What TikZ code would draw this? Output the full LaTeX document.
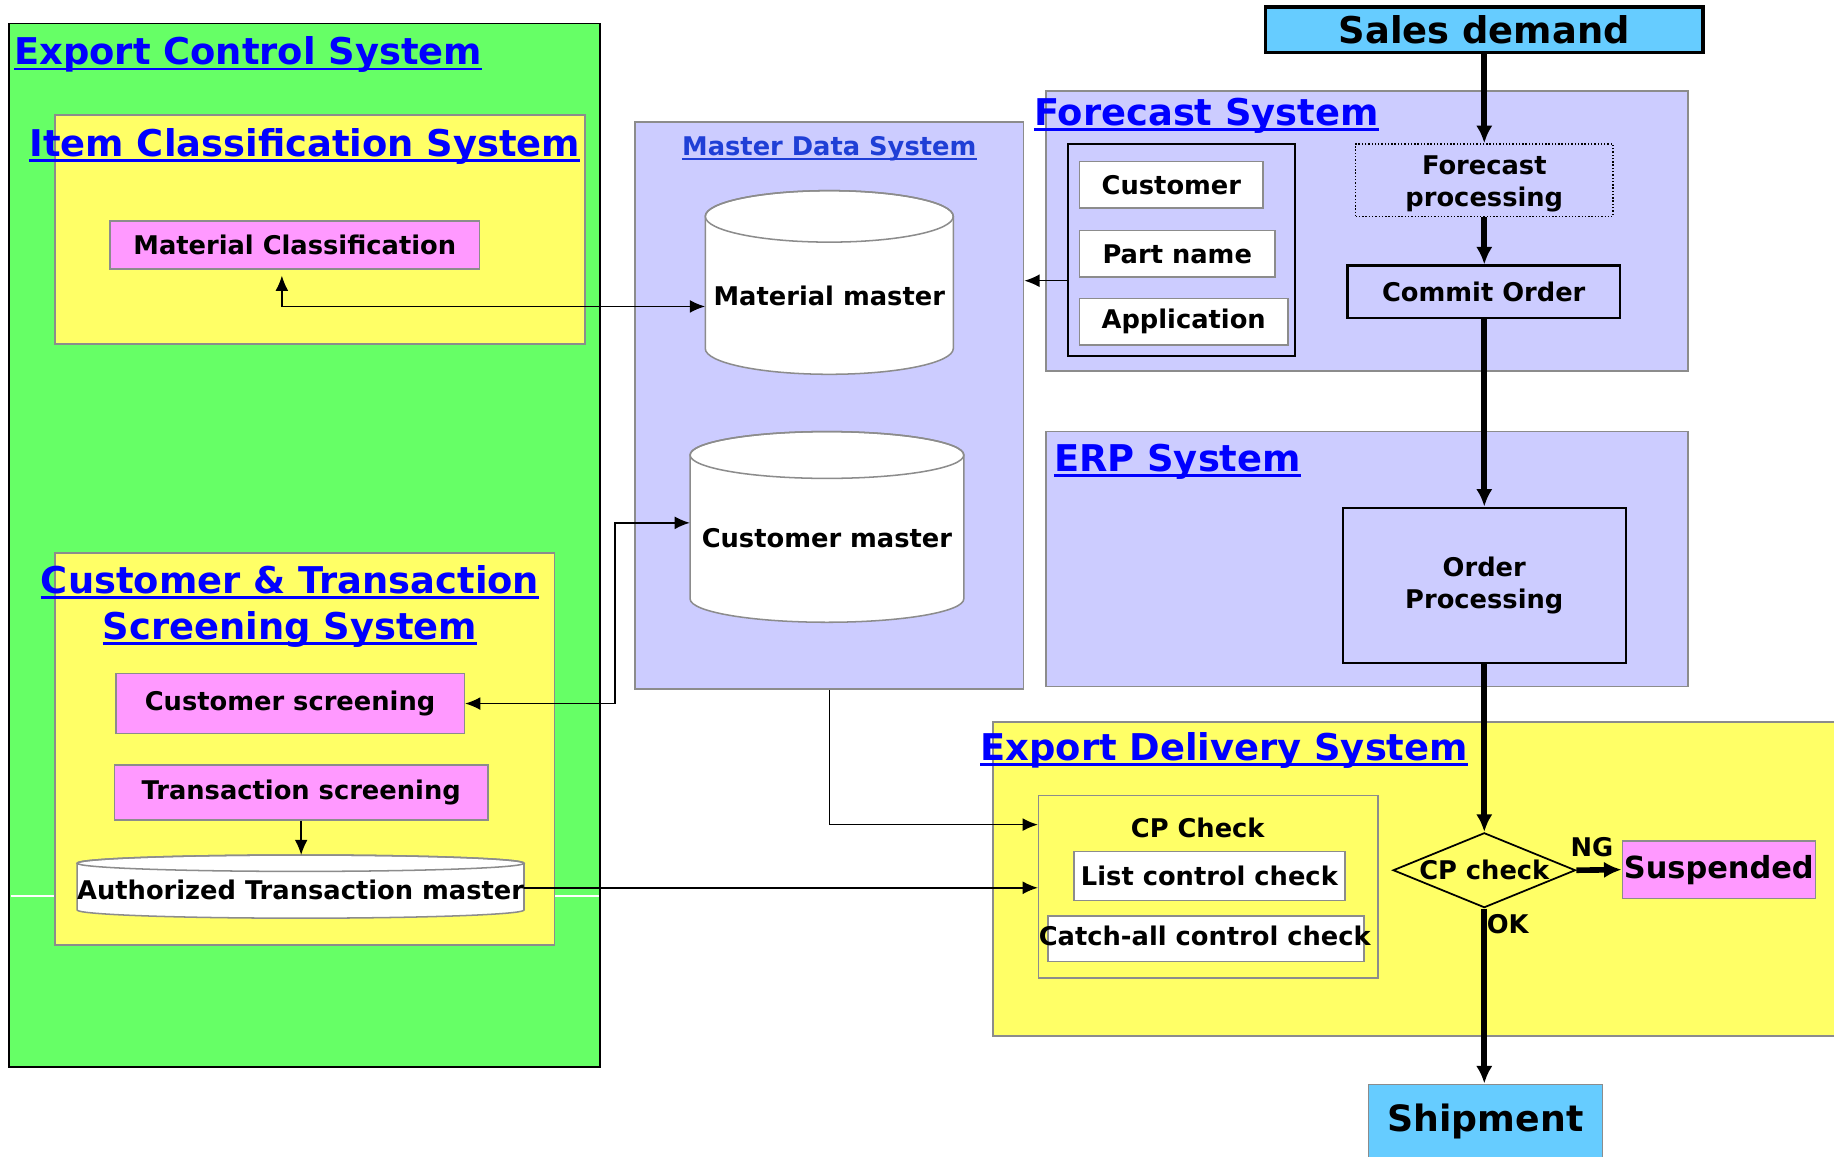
\documentclass[tikz,border=0pt]{standalone}
\usepackage{fontspec}
\setmainfont{DejaVu Sans}
\usetikzlibrary{shapes.geometric,arrows.meta}
\definecolor{cgreen}{HTML}{66FF66}
\definecolor{cyellow}{HTML}{FFFF66}
\definecolor{clav}{HTML}{CCCCFF}
\definecolor{cpink}{HTML}{FF99FF}
\definecolor{csky}{HTML}{66CCFF}
\definecolor{cgrey}{HTML}{8C8C8C}
\definecolor{ctitle}{HTML}{0000FF}
\definecolor{cmds}{HTML}{1F3FD6}
\begin{document}
\begin{tikzpicture}[x=1pt,y=-1pt,
  sysbox/.style={draw=cgrey,line width=1.5pt,inner sep=0pt},
  pinkbox/.style={draw=cgrey,line width=1.3pt,fill=cpink,inner sep=0pt,font=\bfseries\fontsize{22}{26}\selectfont},
  whitebox/.style={draw=cgrey,line width=1.3pt,fill=white,inner sep=0pt,font=\bfseries\fontsize{22}{26}\selectfont},
  blackbox/.style={draw=black,line width=1.8pt,fill=clav,inner sep=0pt,align=center,font=\bfseries\fontsize{22}{28}\selectfont},
  txt/.style={inner sep=0pt,align=center,font=\bfseries\fontsize{22}{26}\selectfont},
  ttl/.style={inner sep=0pt,anchor=base west,text=ctitle,font=\bfseries\fontsize{31.5}{38}\selectfont},
  ul/.style={draw=ctitle,line width=2.2pt},
  cyl/.style={draw=cgrey,line width=1.3pt,fill=white},
  tip/.style={},
  tarr/.style={draw=black,line width=1.3pt,-{Latex[length=13pt,width=11pt]}},
  tarr2/.style={draw=black,line width=1.3pt,{Latex[length=13pt,width=11pt]}-{Latex[length=13pt,width=11pt]}},
  karr/.style={draw=black,line width=4.8pt,-{Latex[length=15pt,width=14pt]}}
]
\clip (0,0) rectangle (1568,989);
\fill[white] (0,0) rectangle (1568,989);

% ---------- Export Control System ----------
\node[sysbox,draw=black,fill=cgreen,minimum width=505pt,minimum height=892pt] (ecs) at (260.5,466) {};
\node[ttl] (ecsT) at (12,55.5) {Export Control System};
\draw[ul] ([yshift=-3.5pt]ecsT.base west) -- ([yshift=-3.5pt]ecsT.base east);

\node[sysbox,fill=cyellow,minimum width=453pt,minimum height=196pt] (ics) at (273.5,196) {};
\node[ttl] (icsT) at (25,133.5) {Item Classification System};
\draw[ul] ([yshift=-3.5pt]icsT.base west) -- ([yshift=-3.5pt]icsT.base east);
\node[pinkbox,minimum width=316pt,minimum height=41pt] (matcl) at (252,209.5) {Material Classification};

\draw[white,line width=1pt] (9,766) -- (47,766);
\draw[white,line width=1pt] (474,766) -- (512,766);
\node[sysbox,fill=cyellow,minimum width=427pt,minimum height=335pt] (ctss) at (260.5,640.5) {};
\node[ttl,anchor=base] (ctssT1) at (248,507.5) {Customer \& Transaction};
\node[ttl,anchor=base] (ctssT2) at (248,546.5) {Screening System};
\draw[ul] ([yshift=-3.5pt]ctssT1.base west) -- ([yshift=-3.5pt]ctssT1.base east);
\draw[ul] ([yshift=-3.5pt]ctssT2.base west) -- ([yshift=-3.5pt]ctssT2.base east);
\node[pinkbox,minimum width=298pt,minimum height=51pt] (custscr) at (248,601.5) {Customer screening};
\node[pinkbox,minimum width=319pt,minimum height=47pt] (transscr) at (257.5,677.5) {Transaction screening};

% Authorized Transaction master cylinder
\path[cyl] (66,738) -- (66,778) arc[start angle=180,end angle=0,x radius=191,y radius=7] -- (448,738) arc[start angle=0,end angle=-180,x radius=191,y radius=7] -- cycle;
\draw[cgrey,line width=1.3pt] (257,738) ellipse [x radius=191,y radius=7];
\node[txt] (authtm) at (257,761) {Authorized Transaction master};
\coordinate (authtop) at (257.5,731);

% ---------- Master Data System ----------
\node[sysbox,fill=clav,minimum width=332pt,minimum height=485pt] (mds) at (709,346.5) {};
\node[inner sep=0pt,anchor=base,text=cmds,font=\bfseries\fontsize{22}{26}\selectfont] (mdsT) at (709,133) {Master Data System};
\draw[cmds,line width=1.6pt] ([yshift=-3pt]mdsT.base west) -- ([yshift=-3pt]mdsT.base east);

\path[cyl] (603,185) -- (603,298) arc[start angle=180,end angle=0,x radius=106,y radius=22] -- (815,185) arc[start angle=0,end angle=-180,x radius=106,y radius=22] -- cycle;
\draw[cgrey,line width=1.3pt] (709,185) ellipse [x radius=106,y radius=22];
\node[txt,minimum width=212pt,minimum height=100pt] (matm) at (709,253) {Material master};

\path[cyl] (590,389) -- (590,512) arc[start angle=180,end angle=0,x radius=117,y radius=20] -- (824,389) arc[start angle=0,end angle=-180,x radius=117,y radius=20] -- cycle;
\draw[cgrey,line width=1.3pt] (707,389) ellipse [x radius=117,y radius=20];
\node[txt,minimum width=234pt,minimum height=100pt] (custm) at (707,460) {Customer master};

% ---------- Forecast System ----------
\node[sysbox,fill=clav,minimum width=549pt,minimum height=239pt] (fcs) at (1168.5,197.5) {};
\node[ttl] (fcsT) at (884,107) {Forecast System};
\draw[ul] ([yshift=-3.5pt]fcsT.base west) -- ([yshift=-3.5pt]fcsT.base east);
\node[draw=black,line width=1.8pt,inner sep=0pt,minimum width=194pt,minimum height=181pt] (inner) at (1010,213.5) {};
\node[whitebox,minimum width=157pt,minimum height=40pt] (cust) at (1001.5,158) {Customer};
\node[whitebox,minimum width=167pt,minimum height=40pt] (part) at (1006.5,217) {Part name};
\node[whitebox,minimum width=178pt,minimum height=40pt] (appl) at (1012,275) {Application};

\node[draw=black,line width=3pt,fill=csky,inner sep=0pt,minimum width=374pt,minimum height=39pt,font=\bfseries\fontsize{31.5}{38}\selectfont] (sales) at (1269,25.5) {Sales demand};
\node[draw=black,line width=1.2pt,dash pattern=on 1.2pt off 1.6pt,inner sep=0pt,minimum width=220pt,minimum height=62pt] (fproc) at (1269,154) {};
\node[txt,font=\bfseries\fontsize{22}{27}\selectfont] (fproctxt) at (1269,157) {Forecast\\processing};
\node[blackbox,minimum width=233pt,minimum height=45pt] (commit) at (1268.5,249.5) {Commit Order};

% ---------- ERP System ----------
\node[sysbox,fill=clav,minimum width=549pt,minimum height=218pt] (erp) at (1168.5,478) {};
\node[ttl] (erpT) at (901,403) {ERP System};
\draw[ul] ([yshift=-3.5pt]erpT.base west) -- ([yshift=-3.5pt]erpT.base east);
\node[blackbox,minimum width=242pt,minimum height=133pt] (oproc) at (1269,500.5) {Order\\Processing};

% ---------- Export Delivery System ----------
\node[sysbox,fill=cyellow,minimum width=741pt,minimum height=269pt] (eds) at (1219.5,751.5) {};
\node[ttl] (edsT) at (838,650) {Export Delivery System};
\draw[ul] ([yshift=-3.5pt]edsT.base west) -- ([yshift=-3.5pt]edsT.base east);
\node[sysbox,line width=1.3pt,fill=cyellow,minimum width=290pt,minimum height=156pt] (cpbox) at (1033,758) {};
\node[txt] (cplbl) at (1024,708) {CP Check};
\node[whitebox,minimum width=232pt,minimum height=42pt] (listc) at (1034,749) {List control check};
\node[draw=cgrey,line width=1.3pt,fill=white,inner sep=0pt,minimum width=270pt,minimum height=39pt] (catchb) at (1031,802.5) {};
\node[txt] (catch) at (1030,800) {Catch-all control check};

\node[diamond,draw=black,line width=1.5pt,inner sep=0pt,minimum width=156pt,minimum height=64pt,
  label={[txt]center:CP check}] (dia) at (1269,744) {};
\node[draw=cgrey,line width=1.3pt,fill=cpink,inner sep=0pt,minimum width=165pt,minimum height=49pt,font=\bfseries\fontsize{26}{30}\selectfont] (susp) at (1469.5,743.5) {Suspended};
\node[draw=cgrey,line width=1.3pt,fill=csky,inner sep=0pt,minimum width=200pt,minimum height=64pt,font=\bfseries\fontsize{31}{37}\selectfont] (ship) at (1270,959) {Shipment};
\node[txt] (ng) at (1361,724) {NG};
\node[txt] (ok) at (1289,790) {OK};

% ---------- connectors ----------
\coordinate (k1) at (241,262);
\draw[tarr2,shorten <=5pt] (matcl.south -| k1) -- (k1) -- (k1 -| matm.west);
\coordinate (k2) at (913,240);
\draw[tarr] (inner.west |- k2) -- (mds.east |- k2);
\coordinate (k3) at (526,447);
\draw[tarr2] (custscr.east) -| (k3) -- (k3 -| custm.west);
\draw[tarr] (transscr.south) -- (authtop);
\draw[tarr] (mds.south) |- (cpbox.west |- 0,705);
\draw[tarr] (authtm.east |- 0,759) -- (cpbox.west |- 0,759);

\draw[karr] (sales.south) -- (fproc.north);
\draw[karr] (fproc.south) -- (commit.north -| fproc.south);
\draw[karr] (commit.south -| oproc.north) -- (oproc.north);
\draw[karr] (oproc.south) -- (dia.north);
\draw[karr] (dia.east) -- (susp.west);
\draw[karr] (dia.south) -- (ship.north -| dia.south);
\end{tikzpicture}
\end{document}
